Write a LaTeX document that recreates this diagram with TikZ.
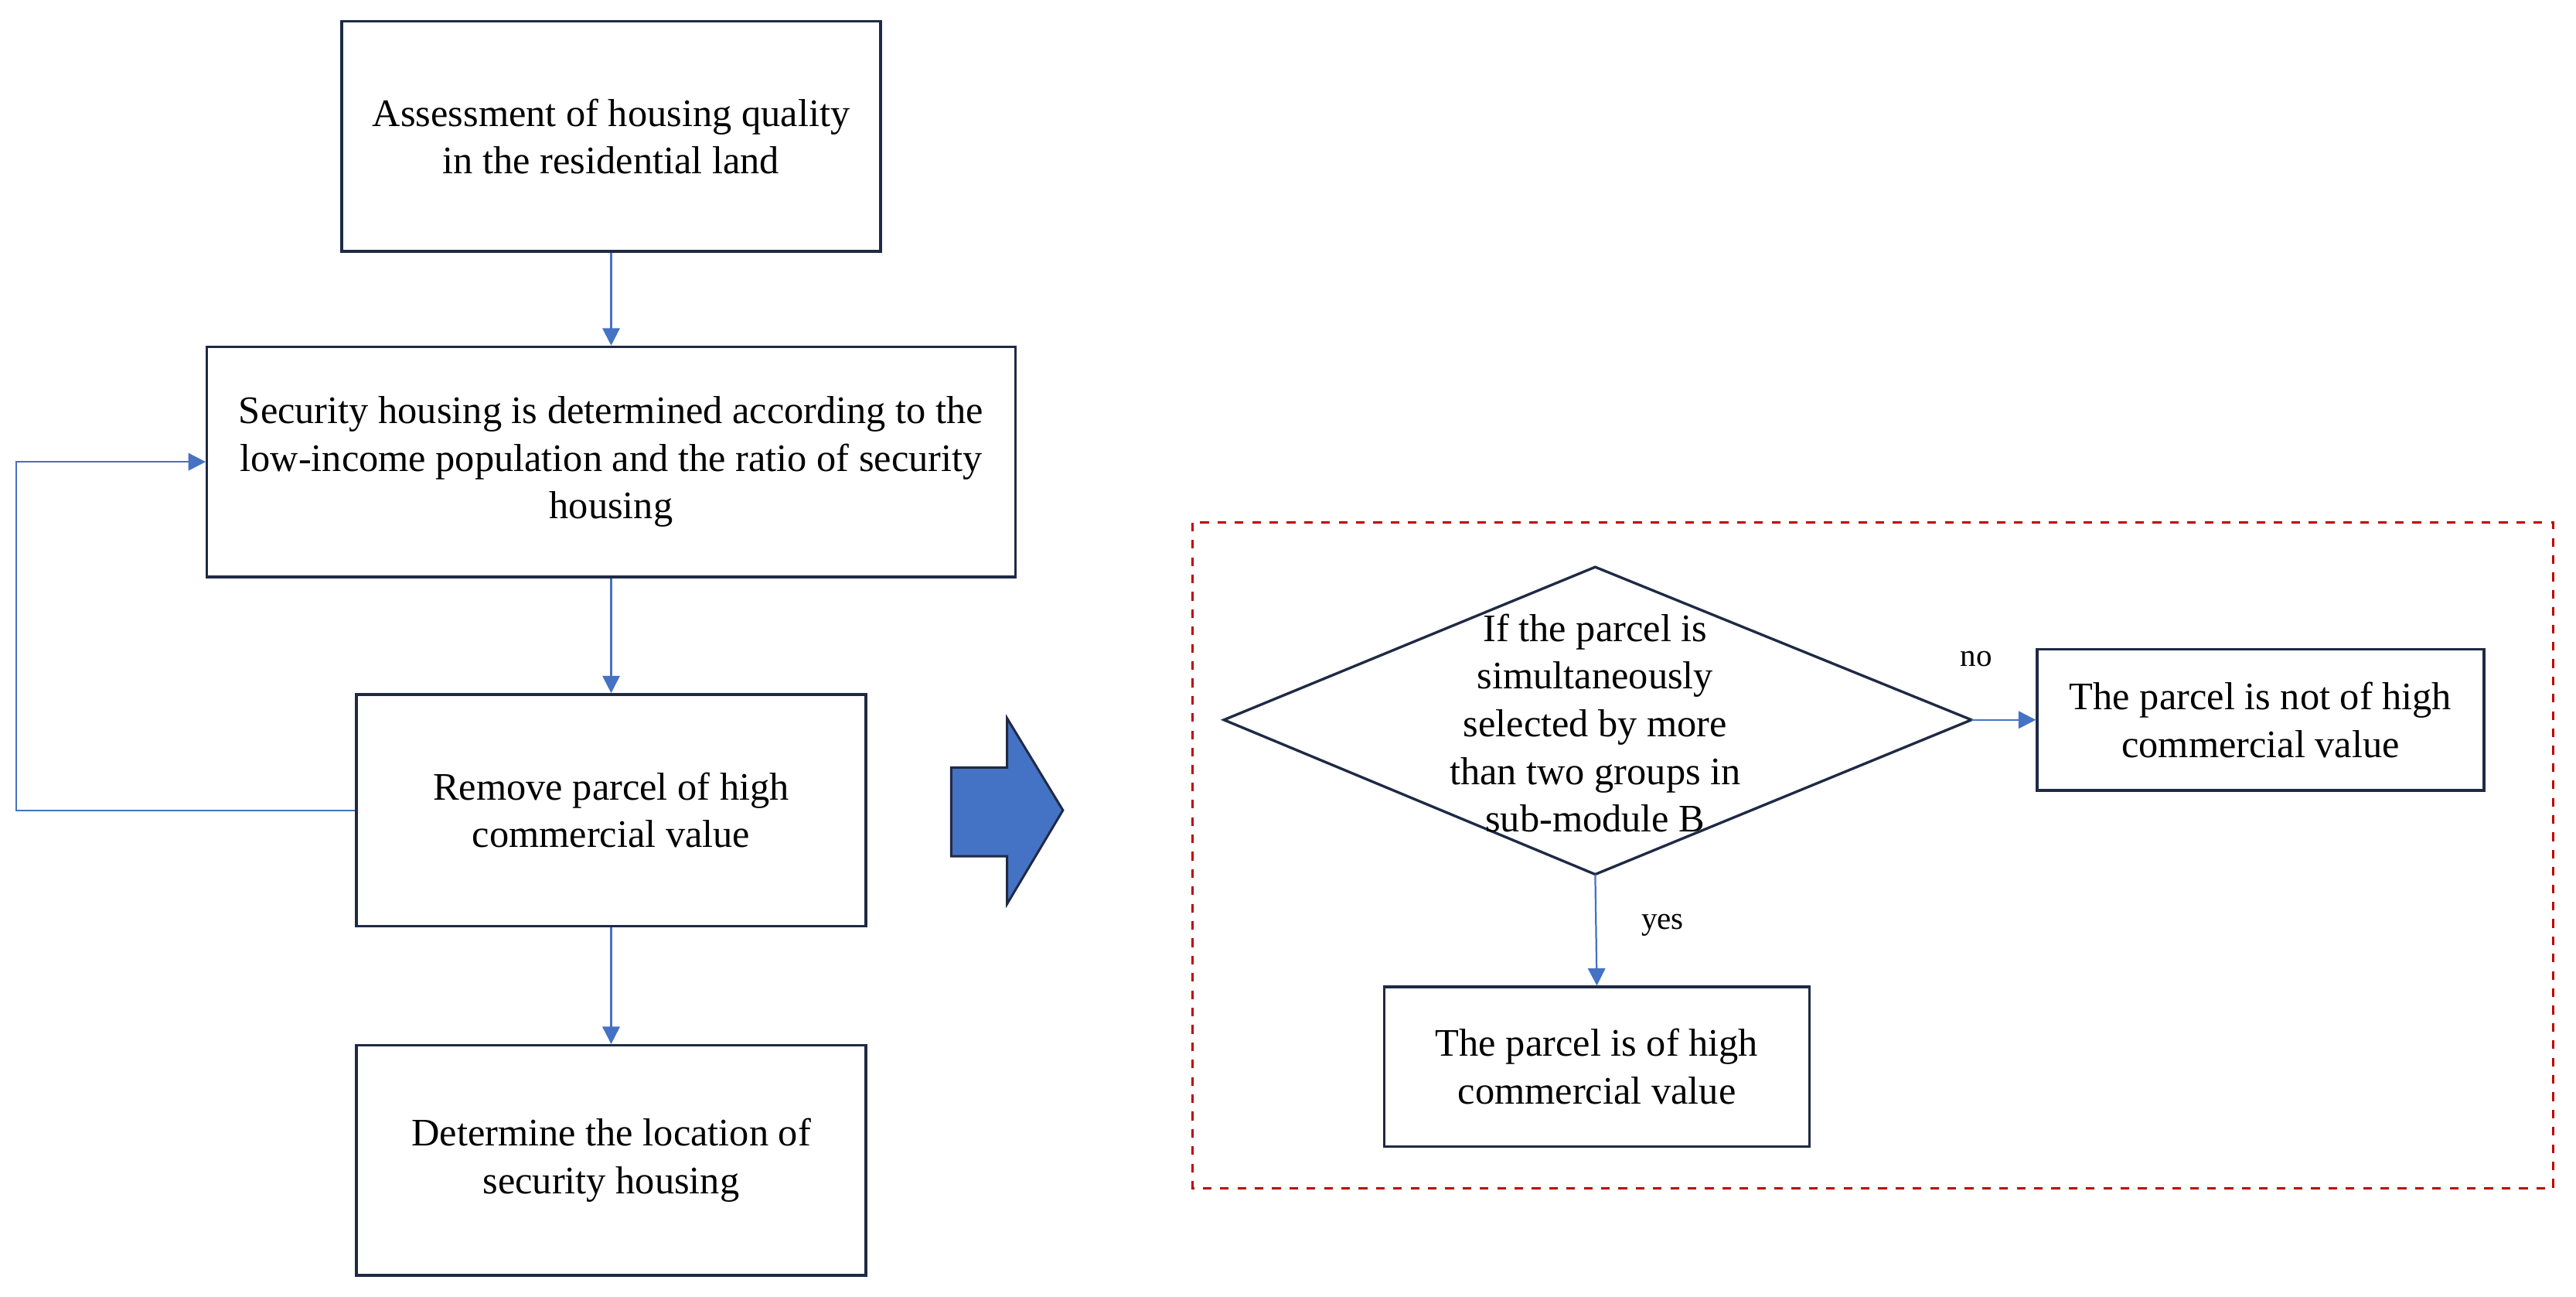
\documentclass[tikz,border=0pt]{standalone}
\usepackage{fontspec}
\setmainfont{Liberation Serif}
\usetikzlibrary{shapes.geometric,arrows.meta}
\definecolor{navy}{HTML}{1F2A44}
\definecolor{flowblue}{HTML}{4472C4}
\definecolor{dashred}{HTML}{C00000}
\begin{document}
\begin{tikzpicture}[x=0.02cm,y=-0.02cm,
    box/.style={draw=navy,line width=0.9pt,align=center,inner sep=0pt,
      font=\fontsize{13.5}{16.5}\selectfont},
    flow/.style={draw=flowblue,line width=0.6pt,-{Triangle[length=6pt,width=6pt]}},
    lbl/.style={font=\fontsize{11}{13}\selectfont}]
  \useasboundingbox (0,0) rectangle (1568,789);
  % left column
  \node [box,minimum width=328*0.02cm,minimum height=140*0.02cm] (assess) at (372,83)
    {Assessment of housing quality\\in the residential land};
  \node [box,minimum width=492*0.02cm,minimum height=140*0.02cm] (security) at (372,281)
    {Security housing is determined according to the\\low-income population and the ratio of security\\housing};
  \node [box,minimum width=310*0.02cm,minimum height=141*0.02cm] (remove) at (372,493)
    {Remove parcel of high\\commercial value};
  \node [box,minimum width=310*0.02cm,minimum height=140*0.02cm] (locate) at (372,706)
    {Determine the location of\\security housing};
  \draw [flow] (assess) -- (security);
  \draw [flow] (security) -- (remove);
  \draw [flow] (remove) -- (locate);
  \coordinate (loopb) at (10,493);
  \coordinate (loopt) at (10,281);
  \draw [flow] (remove.west) -- (loopb) -- (loopt) -- (security.west);
  % block arrow
  \fill [flowblue,draw=navy,line width=0.8pt] (579,467) -- (613,467) -- (613,437) -- (647,493)
    -- (613,550) -- (613,521) -- (579,521) -- cycle;
  % sub-module
  \draw [dashred,dashed,line width=0.9pt] (726,318) rectangle (1554,723);
  \draw [navy,line width=0.9pt] (745,438) coordinate (dl) -- (971,345) -- (1200,438) coordinate (dr)
    -- (971,532) coordinate (db) -- cycle;
  \node [align=center,font=\fontsize{13.5}{16.5}\selectfont] (cond) at (971,440)
    {If the parcel is\\simultaneously\\selected by more\\than two groups in\\sub-module B};
  \node [box,minimum width=272*0.02cm,minimum height=86*0.02cm] (notval) at (1376,438)
    {The parcel is not of high\\commercial value};
  \node [box,minimum width=259*0.02cm,minimum height=97*0.02cm] (isval) at (972,649)
    {The parcel is of high\\commercial value};
  \draw [flow] (dr) -- (notval.west);
  \draw [flow] (db) -- (isval.north);
  \node [lbl] (no) at (1203,401) {no};
  \node [lbl] (yes) at (1012,563) {yes};
\end{tikzpicture}
\end{document}
